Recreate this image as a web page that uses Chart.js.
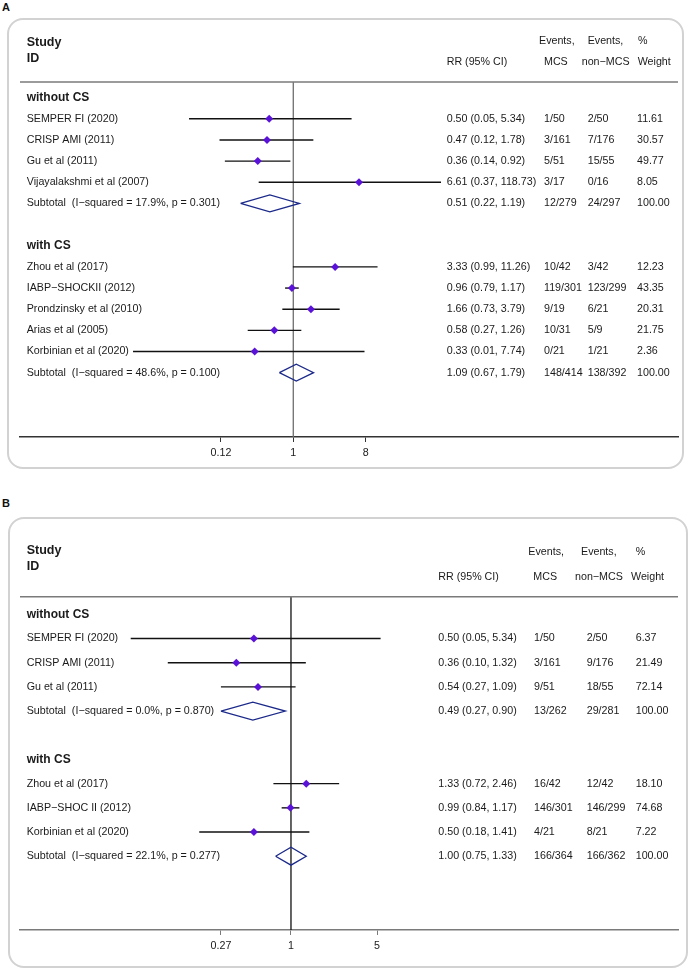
<!DOCTYPE html>
<html>
<head>
<meta charset="utf-8">
<script src="https://cdn.jsdelivr.net/npm/chart.js@4.4.1/dist/chart.umd.min.js"></script>
<style>
  body { margin: 0; background: #fff; width: 690px; height: 969px; position: relative; overflow: hidden; font-family: "Liberation Sans", Arial, sans-serif; }
  .box { position: absolute; border: 2px solid #d2d2d2; border-radius: 16px; box-sizing: border-box; }
  canvas { position: absolute; left: 0; }
  .tag { position: absolute; font-weight: bold; font-size: 11px; color: #111; }
</style>
</head>
<body>
<div class="box" style="left:7px;top:18px;width:677px;height:451px"></div>
<div class="box" style="left:8px;top:517px;width:680px;height:451px"></div>
<div class="tag" style="left:2px;top:1px">A</div>
<div class="tag" style="left:2px;top:497px">B</div>
<canvas id="chartA" width="690" height="485" style="top:0"></canvas>
<canvas id="chartB" width="690" height="484" style="top:485px"></canvas>
<script>
// Panel A
const rowsA = ['without CS', 'SEMPER FI (2020)', 'CRISP AMI (2011)', 'Gu et al (2011)', 'Vijayalakshmi et al (2007)',
  'Subtotal  (I\u2212squared = 17.9%, p = 0.301)', '', 'with CS', 'Zhou et al (2017)', 'IABP\u2212SHOCKII (2012)',
  'Prondzinsky et al (2010)', 'Arias et al (2005)', 'Korbinian et al (2020)', 'Subtotal  (I\u2212squared = 48.6%, p = 0.100)'];
const kindA = ['group', 'study', 'study', 'study', 'study', 'subtotal', 'blank', 'group', 'study', 'study', 'study', 'study', 'study', 'subtotal'];
const rrA = [null, 0.50, 0.47, 0.36, 6.61, 0.51, null, null, 3.33, 0.96, 1.66, 0.58, 0.33, 1.09];
const lowA = [null, 0.05, 0.12, 0.14, 0.37, 0.22, null, null, 0.99, 0.79, 0.73, 0.27, 0.01, 0.67];
const highA = [null, 5.34, 1.78, 0.92, 118.73, 1.19, null, null, 11.26, 1.17, 3.79, 1.26, 7.74, 1.79];
const mcsA = ['', '1/50', '3/161', '5/51', '3/17', '12/279', '', '', '10/42', '119/301', '9/19', '10/31', '0/21', '148/414'];
const nonMcsA = ['', '2/50', '7/176', '15/55', '0/16', '24/297', '', '', '3/42', '123/299', '6/21', '5/9', '1/21', '138/392'];
const weightA = [null, 11.61, 30.57, 49.77, 8.05, 100, null, null, 12.23, 43.35, 20.31, 21.75, 2.36, 100];
const tickValuesA = [0.125, 1, 8];
const tickLabelsA = ['0.12', '1', '8'];

// Panel B
const rowsB = ['without CS', 'SEMPER FI (2020)', 'CRISP AMI (2011)', 'Gu et al (2011)',
  'Subtotal  (I\u2212squared = 0.0%, p = 0.870)', '', 'with CS', 'Zhou et al (2017)', 'IABP\u2212SHOC II (2012)',
  'Korbinian et al (2020)', 'Subtotal  (I\u2212squared = 22.1%, p = 0.277)'];
const kindB = ['group', 'study', 'study', 'study', 'subtotal', 'blank', 'group', 'study', 'study', 'study', 'subtotal'];
const rrB = [null, 0.50, 0.36, 0.54, 0.49, null, null, 1.33, 0.99, 0.50, 1.00];
const lowB = [null, 0.05, 0.10, 0.27, 0.27, null, null, 0.72, 0.84, 0.18, 0.75];
const highB = [null, 5.34, 1.32, 1.09, 0.90, null, null, 2.46, 1.17, 1.41, 1.33];
const mcsB = ['', '1/50', '3/161', '9/51', '13/262', '', '', '16/42', '146/301', '4/21', '166/364'];
const nonMcsB = ['', '2/50', '9/176', '18/55', '29/281', '', '', '12/42', '146/299', '8/21', '166/362'];
const weightB = [null, 6.37, 21.49, 72.14, 100, null, null, 18.10, 74.68, 7.22, 100];
const tickValuesB = [0.27, 1, 5];
const tickLabelsB = ['0.27', '1', '5'];

const FONT = '"Liberation Sans", Arial, sans-serif';

function makePanel(canvasId, p) {
  const datasets = [];
  const pts = [];
  p.kind.forEach((k, i) => { if (k === 'study') pts.push({ x: p.rr[i], y: i }); });
  datasets.push({ data: pts, pointStyle: 'rectRot', pointRadius: 4, backgroundColor: '#5a12d8', borderColor: '#5a12d8', borderWidth: 0, order: 0 });

  // CI lines stop short of the text columns
  const lineClip = { left: false, top: false, bottom: false, right: -p.clipRight };

  p.kind.forEach((k, i) => {
    if (k === 'study') {
      datasets.push({ data: [{ x: p.low[i], y: i }, { x: p.high[i], y: i }], showLine: true,
        borderColor: '#111', borderWidth: 1.4, pointRadius: 0, clip: lineClip, order: 1 });
    }
    if (k === 'subtotal') {
      // outlined diamond across the pooled CI
      datasets.push({ data: [{ x: p.low[i], y: i }, { x: p.rr[i], y: i - p.dh }, { x: p.high[i], y: i },
        { x: p.rr[i], y: i + p.dh }, { x: p.low[i], y: i }], showLine: true,
        borderColor: '#1b2a8a', borderWidth: 1.3, pointRadius: 0, borderJoinStyle: 'miter', order: 1 });
    }
  });
  datasets.push({ data: [{ x: 1, y: p.yMin }, { x: 1, y: p.yMax }], showLine: true,
    borderColor: p.nullColor, borderWidth: 1.3, pointRadius: 0, order: 2 });

  const table = {
    id: 'table',
    afterDraw(chart) {
      const ctx = chart.ctx;
      const area = chart.chartArea;
      const ys = chart.scales.y;
      const off = p.canvasTop;
      ctx.save();
      // header rule
      ctx.strokeStyle = '#7a7a7a';
      ctx.lineWidth = 1.5;
      ctx.beginPath();
      ctx.moveTo(area.left, area.top);
      ctx.lineTo(area.right, area.top);
      ctx.stroke();

      ctx.fillStyle = '#1a1a1a';
      ctx.textBaseline = 'middle';
      ctx.textAlign = 'left';
      ctx.font = 'bold 12.5px ' + FONT;
      ctx.fillText('Study', 26.7, p.head.study - off);
      ctx.fillText('ID', 26.7, p.head.id - off);
      ctx.font = '10.7px ' + FONT;
      p.head.items.forEach(h => ctx.fillText(h[0], h[1], h[2] - off));

      p.rows.forEach((label, i) => {
        const y = ys.getPixelForValue(i);
        const k = p.kind[i];
        if (k === 'blank') return;
        ctx.font = (k === 'group' ? 'bold 12px ' : '10.7px ') + FONT;
        ctx.fillText(label, 26.7, y);
        if (k === 'group') return;
        ctx.font = '10.7px ' + FONT;
        const rr = p.rr[i].toFixed(2) + ' (' + p.low[i].toFixed(2) + ', ' + p.high[i].toFixed(2) + ')';
        ctx.fillText(rr, p.cols[0], y);
        ctx.fillText(p.mcs[i], p.cols[1], y);
        ctx.fillText(p.nonMcs[i], p.cols[2], y);
        ctx.fillText(p.weight[i].toFixed(2), p.cols[3], y);
      });
      ctx.restore();
    }
  };

  return new Chart(document.getElementById(canvasId), {
    type: 'scatter',
    data: { datasets: datasets },
    options: {
      responsive: false,
      animation: false,
      devicePixelRatio: 1,
      layout: { padding: { left: 20, right: 12, top: p.padTop, bottom: p.padBottom } },
      plugins: { legend: { display: false }, tooltip: { enabled: false } },
      scales: {
        x: {
          type: 'logarithmic',
          min: p.xMin,
          max: p.xMax,
          bounds: 'data',
          afterBuildTicks: s => { s.ticks = p.tickValues.map(v => ({ value: v })); },
          afterFit: s => { s.height = 30; },
          ticks: {
            callback: (v, i) => p.tickLabels[i],
            font: { family: FONT, size: 10.7 },
            color: '#1a1a1a',
            padding: 5,
            maxRotation: 0,
            autoSkip: false
          },
          grid: { drawOnChartArea: false, drawTicks: true, tickLength: 5, color: p.axisColor, lineWidth: 1 },
          border: { color: p.axisColor, width: 1.5 }
        },
        y: { type: 'linear', reverse: true, min: p.yMin, max: p.yMax, display: false }
      }
    },
    plugins: [table]
  });
}

makePanel('chartA', {
  rows: rowsA, kind: kindA, rr: rrA, low: lowA, high: highA, mcs: mcsA, nonMcs: nonMcsA, weight: weightA,
  tickValues: tickValuesA, tickLabels: tickLabelsA,
  xMin: Math.exp(-7.853), xMax: Math.exp(11.055), yMin: -0.74, yMax: 16.04, dh: 0.4,
  padTop: 82, padBottom: 18, canvasTop: 0, clipRight: 237,
  nullColor: '#6e6e6e', axisColor: '#333',
  cols: [446.7, 544, 587.7, 637],
  head: { study: 43, id: 59, items: [
    ['Events,', 539, 41.3], ['Events,', 587.7, 41.3], ['%', 638, 41.3],
    ['RR (95% CI)', 446.7, 62], ['MCS', 544, 62], ['non\u2212MCS', 581.7, 62], ['Weight', 637.7, 62]] }
});

makePanel('chartB', {
  rows: rowsB, kind: kindB, rr: rrB, low: lowB, high: highB, mcs: mcsB, nonMcs: nonMcsB, weight: weightB,
  tickValues: tickValuesB, tickLabels: tickLabelsB,
  xMin: Math.exp(-5.065), xMax: Math.exp(7.234), yMin: -0.73, yMax: 13.05, dh: 0.37,
  padTop: 111.7, padBottom: 9, canvasTop: 485, clipRight: 240,
  nullColor: '#111', axisColor: '#7a7a7a',
  cols: [438.3, 534, 586.7, 635.7],
  head: { study: 551, id: 567, items: [
    ['Events,', 528.3, 551.7], ['Events,', 581, 551.7], ['%', 635.7, 551.7],
    ['RR (95% CI)', 438.3, 576.7], ['MCS', 533.3, 576.7], ['non\u2212MCS', 575, 576.7], ['Weight', 631, 576.7]] }
});
</script>
</body>
</html>
